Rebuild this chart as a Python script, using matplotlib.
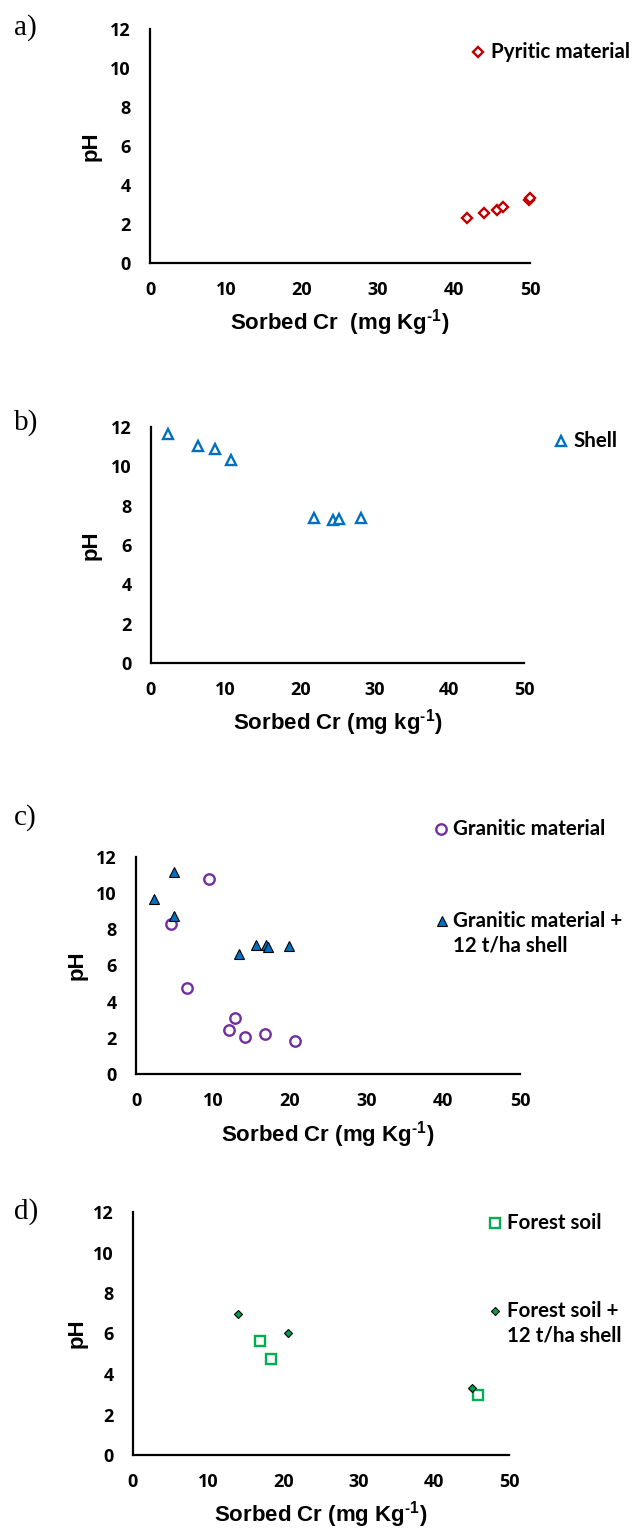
import numpy as np
import matplotlib
matplotlib.use('Agg')
import matplotlib.pyplot as plt

# values
pyr_x = [41.7, 43.9, 45.6, 46.5, 49.9, 50.0]
pyr_y = [2.30, 2.54, 2.71, 2.85, 3.22, 3.31]

shell_x = [2.3, 6.3, 8.6, 10.7, 21.9, 24.4, 25.2, 28.2]
shell_y = [11.66, 11.02, 10.9, 10.3, 7.37, 7.25, 7.32, 7.37]

gran_x = [9.5, 4.6, 6.7, 12.9, 12.1, 14.2, 16.8, 20.7]
gran_y = [10.8, 8.29, 4.74, 3.08, 2.46, 2.03, 2.2, 1.81]
gshell_x = [4.9, 2.4, 5.0, 13.4, 15.6, 16.9, 17.2, 19.9]
gshell_y = [11.15, 9.67, 8.71, 6.65, 7.14, 7.14, 7.05, 7.09]

forest_x = [16.9, 18.4, 45.9]
forest_y = [5.64, 4.72, 2.95]
fshell_x = [13.9, 20.6, 45.1]
fshell_y = [6.95, 6.03, 3.33]

xticks = [0, 10, 20, 30, 40, 50]
yticks = [0, 2, 4, 6, 8, 10, 12]
xlabels = ['Sorbed Cr  (mg Kg$^{\\text{-1}}$)',
           'Sorbed Cr (mg kg$^{\\text{-1}}$)',
           'Sorbed Cr (mg Kg$^{\\text{-1}}$)',
           'Sorbed Cr (mg Kg$^{\\text{-1}}$)']
panel_tags = ['a)', 'b)', 'c)', 'd)']

W, H = 635, 1528
fig = plt.figure(figsize=(W / 100, H / 100), dpi=100)
plt.rcParams['mathtext.fontset'] = 'custom'
plt.rcParams['mathtext.rm'] = 'Liberation Sans:bold'
plt.rcParams['mathtext.it'] = 'Liberation Sans:bold'

# axes boxes in pixels: left, right, top(y=12), bottom(y=0)
boxes = [(150, 530, 29, 263),
         (151, 524, 427, 663),
         (136, 520, 857, 1074),
         (133, 509, 1212, 1455)]
ylab_x = [91, 91, 77, 77]
tag_y = [28, 423, 818, 1212]

tick_font = dict(family='Open Sans', weight='bold', size=13)
leg_font = dict(family='Lato', weight='bold', size=14.8)
lab_font = dict(family='Liberation Sans', weight='bold', size=16)

axes = []
for i, (l, r, t, b) in enumerate(boxes):
    ax = fig.add_axes([l / W, 1 - b / H, (r - l) / W, (b - t) / H])
    ax.set_xlim(0, 50)
    ax.set_ylim(0, 12)
    ax.set_xticks(xticks)
    ax.set_yticks(yticks)
    ax.spines['top'].set_visible(False)
    ax.spines['right'].set_visible(False)
    for s in ['left', 'bottom']:
        ax.spines[s].set_linewidth(1.6)
    ax.tick_params(length=0)
    ax.tick_params(axis='y', pad=14)
    ax.tick_params(axis='x', pad=13)
    for lab in ax.get_xticklabels() + ax.get_yticklabels():
        lab.set_fontfamily(tick_font['family'])
        lab.set_fontweight('bold')
        lab.set_fontsize(tick_font['size'])
    hpx = b - t
    ax.set_xlabel(xlabels[i], **lab_font)
    ax.xaxis.label.set_va('baseline')
    ax.xaxis.set_label_coords(0.5, -67 / hpx)
    ax.set_ylabel('pH', **lab_font)
    ax.yaxis.set_label_coords(-(l - ylab_x[i]) / (r - l), 0.5)
    ax.yaxis.label.set_va('center')
    fig.text(14 / W, 1 - tag_y[i] / H, panel_tags[i], family='Liberation Serif',
             size=21, va='center', ha='left')
    axes.append(ax)

# series styles
st_pyr = dict(marker='D', ms=5, mfc='white', mec='#C00000', mew=1.7, ls='none')
st_shell = dict(marker='^', ms=7, mfc='white', mec='#0070C0', mew=1.7, ls='none')
st_gran = dict(marker='o', ms=7.5, mfc='white', mec='#7030A0', mew=1.7, ls='none')
st_gshell = dict(marker='^', ms=6.5, mfc='#0070C0', mec='black', mew=0.8, ls='none')
st_forest = dict(marker='s', ms=7, mfc='white', mec='#00B050', mew=1.7, ls='none')
st_fshell = dict(marker='D', ms=3.8, mfc='#00A050', mec='black', mew=0.8, ls='none')

axes[0].plot(pyr_x, pyr_y, clip_on=False, **st_pyr)
axes[1].plot(shell_x, shell_y, clip_on=False, **st_shell)
axes[2].plot(gran_x, gran_y, clip_on=False, **st_gran)
axes[2].plot(gshell_x, gshell_y, clip_on=False, **st_gshell)
axes[3].plot(forest_x, forest_y, clip_on=False, **st_forest)
axes[3].plot(fshell_x, fshell_y, clip_on=False, **st_fshell)

# hand-placed legend entries (marker x, y, text x, label)
legend_items = [
    (st_pyr, 478, 52, 491, 'Pyritic material'),
    (st_shell, 561, 441, 573, 'Shell'),
    (st_gran, 441, 829, 453, 'Granitic material'),
    (st_gshell, 442, 921, 453, 'Granitic material +\n12 t/ha shell'),
    (st_forest, 495, 1223, 507, 'Forest soil'),
    (st_fshell, 495, 1311, 507, 'Forest soil +\n12 t/ha shell'),
]
for st, mx, my, tx, txt in legend_items:
    fig.add_artist(plt.Line2D([mx / W], [1 - my / H], transform=fig.transFigure, **st))
    fig.text(tx / W, 1 - (my - 10) / H, txt, va='top', ha='left',
             linespacing=1.3, **leg_font)

fig.savefig('out.png', dpi=100)
